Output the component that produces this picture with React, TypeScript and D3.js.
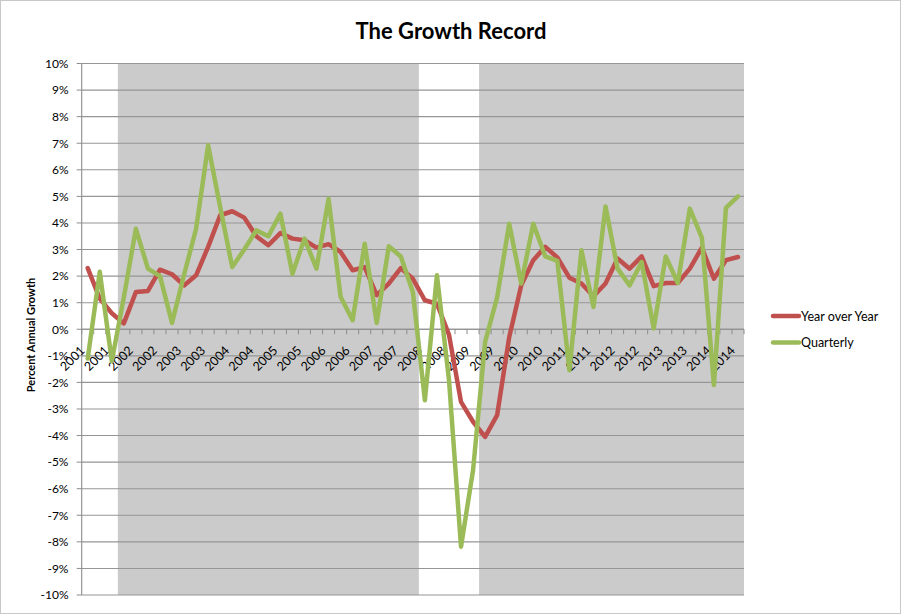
import React, { useRef, useEffect } from 'react';
import * as d3 from 'd3';

// quarters 2001Q1 .. 2014Q3
const quarters = [
  '2001Q1', '2001Q2', '2001Q3', '2001Q4', '2002Q1', '2002Q2', '2002Q3', '2002Q4',
  '2003Q1', '2003Q2', '2003Q3', '2003Q4', '2004Q1', '2004Q2', '2004Q3', '2004Q4',
  '2005Q1', '2005Q2', '2005Q3', '2005Q4', '2006Q1', '2006Q2', '2006Q3', '2006Q4',
  '2007Q1', '2007Q2', '2007Q3', '2007Q4', '2008Q1', '2008Q2', '2008Q3', '2008Q4',
  '2009Q1', '2009Q2', '2009Q3', '2009Q4', '2010Q1', '2010Q2', '2010Q3', '2010Q4',
  '2011Q1', '2011Q2', '2011Q3', '2011Q4', '2012Q1', '2012Q2', '2012Q3', '2012Q4',
  '2013Q1', '2013Q2', '2013Q3', '2013Q4', '2014Q1', '2014Q2', '2014Q3',
];

// axis labels shown on every other quarter
const tickLabels = [
  '2001', '2001', '2002', '2002', '2003', '2003', '2004', '2004', '2005', '2005',
  '2006', '2006', '2007', '2007', '2008', '2008', '2009', '2009', '2010', '2010',
  '2011', '2011', '2012', '2012', '2013', '2013', '2014', '2014',
];

const yearOverYear = [
  2.3, 1.15, 0.6, 0.22, 1.4, 1.44, 2.24, 2.07, 1.65, 2.03,
  3.1, 4.29, 4.44, 4.2, 3.5, 3.16, 3.62, 3.41, 3.35, 3.07,
  3.2, 2.91, 2.22, 2.34, 1.28, 1.72, 2.3, 1.9, 1.09, 0.96,
  -0.2, -2.73, -3.48, -4.05, -3.23, -0.3, 1.65, 2.6, 3.1, 2.7,
  1.94, 1.72, 1.24, 1.72, 2.66, 2.28, 2.74, 1.62, 1.74, 1.74,
  2.28, 3.07, 1.9, 2.6, 2.72,
];

const quarterly = [
  -1.1, 2.16, -1.2, 1.2, 3.78, 2.28, 2.0, 0.24, 2.05, 3.78,
  6.92, 4.6, 2.34, 3.0, 3.72, 3.5, 4.35, 2.09, 3.41, 2.28,
  4.91, 1.22, 0.34, 3.22, 0.24, 3.12, 2.74, 1.4, -2.67, 2.03,
  -1.9, -8.18, -5.3, -0.48, 1.2, 3.97, 1.72, 3.97, 2.74, 2.57,
  -1.54, 2.97, 0.84, 4.62, 2.28, 1.65, 2.53, 0.03, 2.74, 1.74,
  4.54, 3.45, -2.1, 4.57, 5.0,
];

// 1 = shaded quarter (gray background column)
const shaded = [
  0, 0, 0, 1, 1, 1, 1, 1, 1, 1,
  1, 1, 1, 1, 1, 1, 1, 1, 1, 1,
  1, 1, 1, 1, 1, 1, 1, 1, 0, 0,
  0, 0, 0, 1, 1, 1, 1, 1, 1, 1,
  1, 1, 1, 1, 1, 1, 1, 1, 1, 1,
  1, 1, 1, 1, 1,
];

const yTicks = d3.range(-10, 11, 1);

const RED = '#C0504D';
const GREEN = '#9BBB59';
const FONT = 'Lato, "Open Sans", sans-serif';

const GrowthChart: React.FC = () => {
  const svgRef = useRef<SVGSVGElement | null>(null);

  useEffect(() => {
    if (!svgRef.current) return;
    const svg = d3.select(svgRef.current);
    svg.selectAll('*').remove();

    const W = 902, H = 615;
    const left = 81.7, right = 744, top = 63.5, bottom = 595;

    const x = d3.scaleBand<string>().domain(quarters).range([left, right]).padding(0);
    const y = d3.scaleLinear().domain([-10, 10]).range([bottom, top]);
    const cx = (q: string) => (x(q) as number) + x.bandwidth() / 2;

    svg.append('rect')
      .attr('x', 0.5).attr('y', 0.5)
      .attr('width', W - 2).attr('height', H - 2)
      .attr('fill', '#fff').attr('stroke', '#c8c8c8');

    // merge consecutive shaded quarters into runs so no seams show
    const runs: { start: string; end: string }[] = [];
    shaded.forEach((s, i) => {
      if (!s) return;
      if (i > 0 && shaded[i - 1]) runs[runs.length - 1].end = quarters[i];
      else runs.push({ start: quarters[i], end: quarters[i] });
    });

    svg.append('g')
      .selectAll('rect')
      .data(runs)
      .enter()
      .append('rect')
      .attr('x', d => x(d.start) as number)
      .attr('y', top)
      .attr('width', d => (x(d.end) as number) + x.bandwidth() - (x(d.start) as number))
      .attr('height', bottom - top)
      .attr('fill', '#CBCBCB');

    // gridlines
    svg.append('g')
      .selectAll('line')
      .data(yTicks)
      .enter()
      .append('line')
      .attr('x1', left).attr('x2', right)
      .attr('y1', d => y(d)).attr('y2', d => y(d))
      .attr('stroke', '#969696')
      .attr('stroke-width', 1.1);

    // y axis line + ticks
    svg.append('line')
      .attr('x1', left).attr('x2', left)
      .attr('y1', top).attr('y2', bottom)
      .attr('stroke', '#8c8c8c').attr('stroke-width', 1.1);

    svg.append('g')
      .selectAll('line')
      .data(yTicks)
      .enter()
      .append('line')
      .attr('x1', left - 5).attr('x2', left)
      .attr('y1', d => y(d)).attr('y2', d => y(d))
      .attr('stroke', '#8c8c8c');

    svg.append('g')
      .selectAll('text')
      .data(yTicks)
      .enter()
      .append('text')
      .attr('x', 68.5)
      .attr('y', d => y(d))
      .attr('dy', '0.36em')
      .attr('text-anchor', 'end')
      .style('font-family', FONT)
      .style('font-size', '12px')
      .attr('fill', '#000')
      .text(d => `${d}%`);

    // category axis at zero
    svg.append('line')
      .attr('x1', left).attr('x2', right)
      .attr('y1', y(0)).attr('y2', y(0))
      .attr('stroke', '#8c8c8c').attr('stroke-width', 1.1);

    const boundaries = quarters.map(q => x(q) as number).concat([right]);
    svg.append('g')
      .selectAll('line')
      .data(boundaries)
      .enter()
      .append('line')
      .attr('x1', d => d).attr('x2', d => d)
      .attr('y1', y(0)).attr('y2', y(0) + 5)
      .attr('stroke', '#8c8c8c');

    svg.append('g')
      .selectAll('text')
      .data(tickLabels)
      .enter()
      .append('text')
      .attr('transform', (d, i) => `translate(${cx(quarters[i * 2]) - 2},${y(0) + 22}) rotate(-45)`)
      .attr('text-anchor', 'end')
      .style('font-family', FONT)
      .style('font-size', '12.5px')
      .attr('fill', '#000')
      .text(d => d);

    // series lines
    const line = d3.line<number>()
      .x((_, i) => cx(quarters[i]))
      .y(d => y(d));

    svg.append('path')
      .datum(yearOverYear)
      .attr('d', line)
      .attr('fill', 'none')
      .attr('stroke', RED)
      .attr('stroke-width', 4.5)
      .attr('stroke-linejoin', 'round')
      .attr('stroke-linecap', 'round');

    svg.append('path')
      .datum(quarterly)
      .attr('d', line)
      .attr('fill', 'none')
      .attr('stroke', GREEN)
      .attr('stroke-width', 4.5)
      .attr('stroke-linejoin', 'round')
      .attr('stroke-linecap', 'round');

    // title
    svg.append('text')
      .attr('x', 451).attr('y', 39)
      .attr('text-anchor', 'middle')
      .style('font-family', FONT)
      .style('font-size', '22px')
      .style('font-weight', 'bold')
      .attr('fill', '#000')
      .text('The Growth Record');

    // y axis title
    svg.append('text')
      .attr('transform', `translate(35,335) rotate(-90)`)
      .attr('text-anchor', 'middle')
      .style('font-family', FONT)
      .style('font-size', '11px')
      .style('font-weight', 'bold')
      .attr('fill', '#000')
      .text('Percent Annual Growth');

    // legend
    const legend = [
      { label: 'Year over Year', color: RED, y: 316 },
      { label: 'Quarterly', color: GREEN, y: 342.5 },
    ];
    const lg = svg.append('g');
    legend.forEach(item => {
      lg.append('line')
        .attr('x1', 773).attr('x2', 799)
        .attr('y1', item.y).attr('y2', item.y)
        .attr('stroke', item.color)
        .attr('stroke-width', 4.5)
        .attr('stroke-linecap', 'round');
      lg.append('text')
        .attr('x', 801).attr('y', item.y)
        .attr('dy', '0.36em')
        .style('font-family', FONT)
        .style('font-size', '12.5px')
        .attr('fill', '#000')
        .text(item.label);
    });
  }, []);

  return <svg ref={svgRef} width={902} height={615} style={{ display: 'block' }} />;
};

export default function App() {
  return (
    <div style={{ position: 'absolute', left: 0, top: 0 }}>
      <GrowthChart />
    </div>
  );
}
